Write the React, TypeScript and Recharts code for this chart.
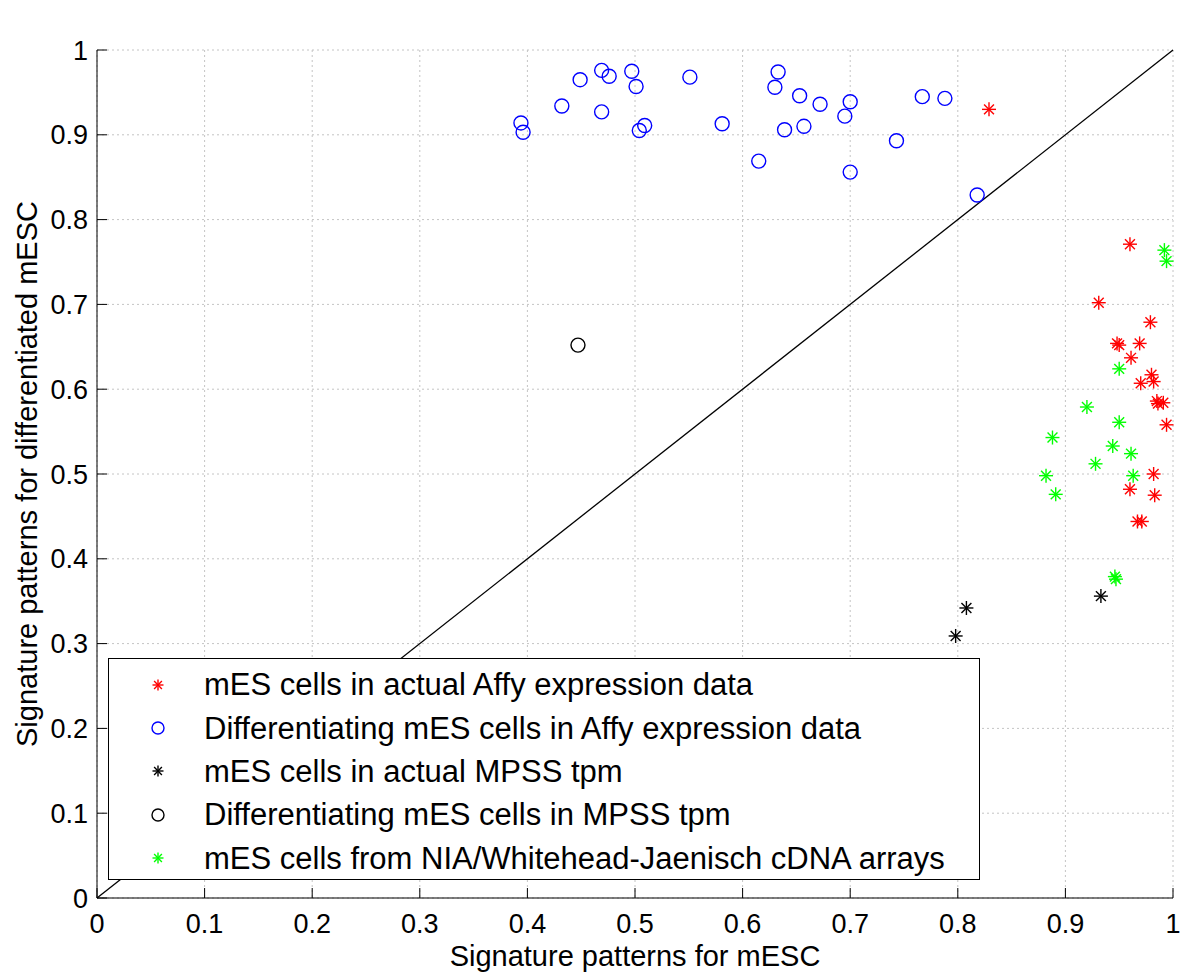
import React from 'react';
import {
  ScatterChart,
  Scatter,
  XAxis,
  YAxis,
  CartesianGrid,
  ReferenceLine,
  Legend,
} from 'recharts';

// mES cells in actual Affy expression data (red *)
const affyES = [
  { x: 0.829, y: 0.930 },
  { x: 0.960, y: 0.771 },
  { x: 0.931, y: 0.702 },
  { x: 0.979, y: 0.679 },
  { x: 0.948, y: 0.654 },
  { x: 0.950, y: 0.652 },
  { x: 0.969, y: 0.654 },
  { x: 0.961, y: 0.637 },
  { x: 0.980, y: 0.617 },
  { x: 0.982, y: 0.609 },
  { x: 0.970, y: 0.607 },
  { x: 0.985, y: 0.586 },
  { x: 0.986, y: 0.583 },
  { x: 0.991, y: 0.584 },
  { x: 0.994, y: 0.558 },
  { x: 0.982, y: 0.500 },
  { x: 0.960, y: 0.482 },
  { x: 0.983, y: 0.475 },
  { x: 0.967, y: 0.444 },
  { x: 0.971, y: 0.444 },
];

// Differentiating mES cells in Affy expression data (blue o)
const affyDiff = [
  { x: 0.394, y: 0.914 },
  { x: 0.396, y: 0.903 },
  { x: 0.432, y: 0.934 },
  { x: 0.449, y: 0.965 },
  { x: 0.469, y: 0.976 },
  { x: 0.469, y: 0.927 },
  { x: 0.476, y: 0.969 },
  { x: 0.497, y: 0.975 },
  { x: 0.501, y: 0.957 },
  { x: 0.504, y: 0.905 },
  { x: 0.509, y: 0.911 },
  { x: 0.551, y: 0.968 },
  { x: 0.581, y: 0.913 },
  { x: 0.615, y: 0.869 },
  { x: 0.630, y: 0.956 },
  { x: 0.633, y: 0.974 },
  { x: 0.639, y: 0.906 },
  { x: 0.653, y: 0.946 },
  { x: 0.657, y: 0.910 },
  { x: 0.672, y: 0.936 },
  { x: 0.695, y: 0.922 },
  { x: 0.700, y: 0.939 },
  { x: 0.700, y: 0.856 },
  { x: 0.743, y: 0.893 },
  { x: 0.767, y: 0.945 },
  { x: 0.788, y: 0.943 },
  { x: 0.818, y: 0.829 },
];

// mES cells in actual MPSS tpm (black *)
const mpssES = [
  { x: 0.798, y: 0.309 },
  { x: 0.808, y: 0.342 },
  { x: 0.933, y: 0.356 },
];

// Differentiating mES cells in MPSS tpm (black o)
const mpssDiff = [{ x: 0.447, y: 0.652 }];

// mES cells from NIA/Whitehead-Jaenisch cDNA arrays (green *)
const cdnaES = [
  { x: 0.992, y: 0.764 },
  { x: 0.994, y: 0.751 },
  { x: 0.950, y: 0.624 },
  { x: 0.920, y: 0.579 },
  { x: 0.950, y: 0.561 },
  { x: 0.888, y: 0.543 },
  { x: 0.944, y: 0.533 },
  { x: 0.961, y: 0.524 },
  { x: 0.928, y: 0.512 },
  { x: 0.882, y: 0.498 },
  { x: 0.963, y: 0.498 },
  { x: 0.891, y: 0.476 },
  { x: 0.946, y: 0.379 },
  { x: 0.947, y: 0.376 },
];

const axisTicks = [0, 0.1, 0.2, 0.3, 0.4, 0.5, 0.6, 0.7, 0.8, 0.9, 1];

const seriesNames = [
  'mES cells in actual Affy expression data',
  'Differentiating mES cells in Affy expression data',
  'mES cells in actual MPSS tpm',
  'Differentiating mES cells in MPSS tpm',
  'mES cells from NIA/Whitehead-Jaenisch cDNA arrays',
];
const seriesColors = ['#ff0000', '#0000ff', '#000000', '#000000', '#00ff00'];
const seriesMarkers = ['star', 'circle', 'star', 'circle', 'star'];

const FONT = '"Liberation Sans", Arial, Helvetica, sans-serif';

function Asterisk({ cx, cy, color, r = 7 }: { cx: number; cy: number; color: string; r?: number }) {
  const d = r * 0.7071;
  return (
    <g stroke={color} strokeWidth={1.4} fill="none">
      <line x1={cx - r} y1={cy} x2={cx + r} y2={cy} />
      <line x1={cx} y1={cy - r} x2={cx} y2={cy + r} />
      <line x1={cx - d} y1={cy - d} x2={cx + d} y2={cy + d} />
      <line x1={cx - d} y1={cy + d} x2={cx + d} y2={cy - d} />
    </g>
  );
}

function Ring({ cx, cy, color, r = 7 }: { cx: number; cy: number; color: string; r?: number }) {
  return <circle cx={cx} cy={cy} r={r} stroke={color} strokeWidth={1.4} fill="none" />;
}

const starShape = (color: string) => (p: any) => <Asterisk cx={p.cx} cy={p.cy} color={color} />;
const ringShape = (color: string) => (p: any) => <Ring cx={p.cx} cy={p.cy} color={color} />;

function LegendBox() {
  return (
    <div
      style={{
        width: 872,
        height: 222,
        boxSizing: 'border-box',
        border: '1px solid #000',
        background: '#fff',
        paddingTop: 4,
        fontFamily: FONT,
        fontSize: 31,
        color: '#000',
      }}
    >
      {seriesNames.map((name, i) => (
        <div key={name} style={{ display: 'flex', alignItems: 'center', height: 43.4 }}>
          <svg width={20} height={20} style={{ marginLeft: 39, marginRight: 36, flex: 'none' }}>
            {seriesMarkers[i] === 'star' ? (
              <Asterisk cx={10} cy={10} color={seriesColors[i]} r={5.5} />
            ) : (
              <Ring cx={10} cy={10} color={seriesColors[i]} r={6} />
            )}
          </svg>
          <span style={{ whiteSpace: 'nowrap', lineHeight: 1 }}>{name}</span>
        </div>
      ))}
    </div>
  );
}

const xLabel = (props: any) => {
  const vb = props.viewBox || props;
  return (
    <text
      x={vb.x + vb.width / 2}
      y={vb.y + 68}
      textAnchor="middle"
      fontSize={29}
      fontFamily={FONT}
      fill="#000"
    >
      Signature patterns for mESC
    </text>
  );
};

const yLabel = (props: any) => {
  const vb = props.viewBox || props;
  const cx = vb.x + 37;
  const cy = vb.y + vb.height / 2;
  return (
    <text
      x={cx}
      y={cy}
      transform={`rotate(-90, ${cx}, ${cy})`}
      textAnchor="middle"
      fontSize={29}
      fontFamily={FONT}
      fill="#000"
    >
      Signature patterns for differentiated mESC
    </text>
  );
};

const tickStyle = { fontSize: 27, fill: '#000', fontFamily: FONT };

export default function App() {
  return (
    <div style={{ position: 'absolute', left: 0, top: 0, width: 1200, height: 979, background: '#fff' }}>
      <ScatterChart width={1200} height={979} margin={{ top: 50, right: 27, bottom: 0, left: 0 }}>
        <CartesianGrid stroke="#c4c4c4" strokeDasharray="2 3" />
        <XAxis
          xAxisId={0}
          type="number"
          dataKey="x"
          domain={[0, 1]}
          ticks={axisTicks}
          interval={0}
          height={81}
          tickSize={-10}
          tickMargin={26}
          tick={tickStyle}
          axisLine={{ stroke: '#000' }}
          tickLine={{ stroke: '#000' }}
          label={xLabel}
        />
        <XAxis
          xAxisId="top"
          orientation="top"
          type="number"
          dataKey="x"
          domain={[0, 1]}
          ticks={axisTicks}
          interval={0}
          height={0}
          tickSize={-10}
          tick={false}
          axisLine={{ stroke: '#000' }}
          tickLine={{ stroke: '#000' }}
        />
        <YAxis
          yAxisId={0}
          type="number"
          dataKey="y"
          domain={[0, 1]}
          ticks={axisTicks}
          interval={0}
          width={97}
          tickSize={-10}
          tickMargin={19}
          tick={tickStyle}
          axisLine={{ stroke: '#000' }}
          tickLine={{ stroke: '#000' }}
          label={yLabel}
        />
        <YAxis
          yAxisId="right"
          orientation="right"
          type="number"
          dataKey="y"
          domain={[0, 1]}
          ticks={axisTicks}
          interval={0}
          width={0}
          tickSize={-10}
          tick={false}
          axisLine={{ stroke: '#000' }}
          tickLine={{ stroke: '#000' }}
        />
        <ReferenceLine
          xAxisId={0}
          yAxisId={0}
          segment={[{ x: 0, y: 0 }, { x: 1, y: 1 }]}
          stroke="#000"
          strokeWidth={1.3}
        />
        <Scatter name={seriesNames[0]} data={affyES} xAxisId={0} yAxisId={0} shape={starShape(seriesColors[0])} isAnimationActive={false} />
        <Scatter name={seriesNames[1]} data={affyDiff} xAxisId={0} yAxisId={0} shape={ringShape(seriesColors[1])} isAnimationActive={false} />
        <Scatter name={seriesNames[2]} data={mpssES} xAxisId={0} yAxisId={0} shape={starShape(seriesColors[2])} isAnimationActive={false} />
        <Scatter name={seriesNames[3]} data={mpssDiff} xAxisId={0} yAxisId={0} shape={ringShape(seriesColors[3])} isAnimationActive={false} />
        <Scatter name={seriesNames[4]} data={cdnaES} xAxisId={0} yAxisId={0} shape={starShape(seriesColors[4])} isAnimationActive={false} />
        <Scatter data={[]} xAxisId="top" yAxisId="right" isAnimationActive={false} legendType="none" />
        <Legend
          layout="horizontal"
          verticalAlign="middle"
          align="center"
          content={() => <LegendBox />}
          wrapperStyle={{ left: 108, top: 658, width: 872, height: 222, margin: 0, padding: 0 }}
        />
      </ScatterChart>
    </div>
  );
}
